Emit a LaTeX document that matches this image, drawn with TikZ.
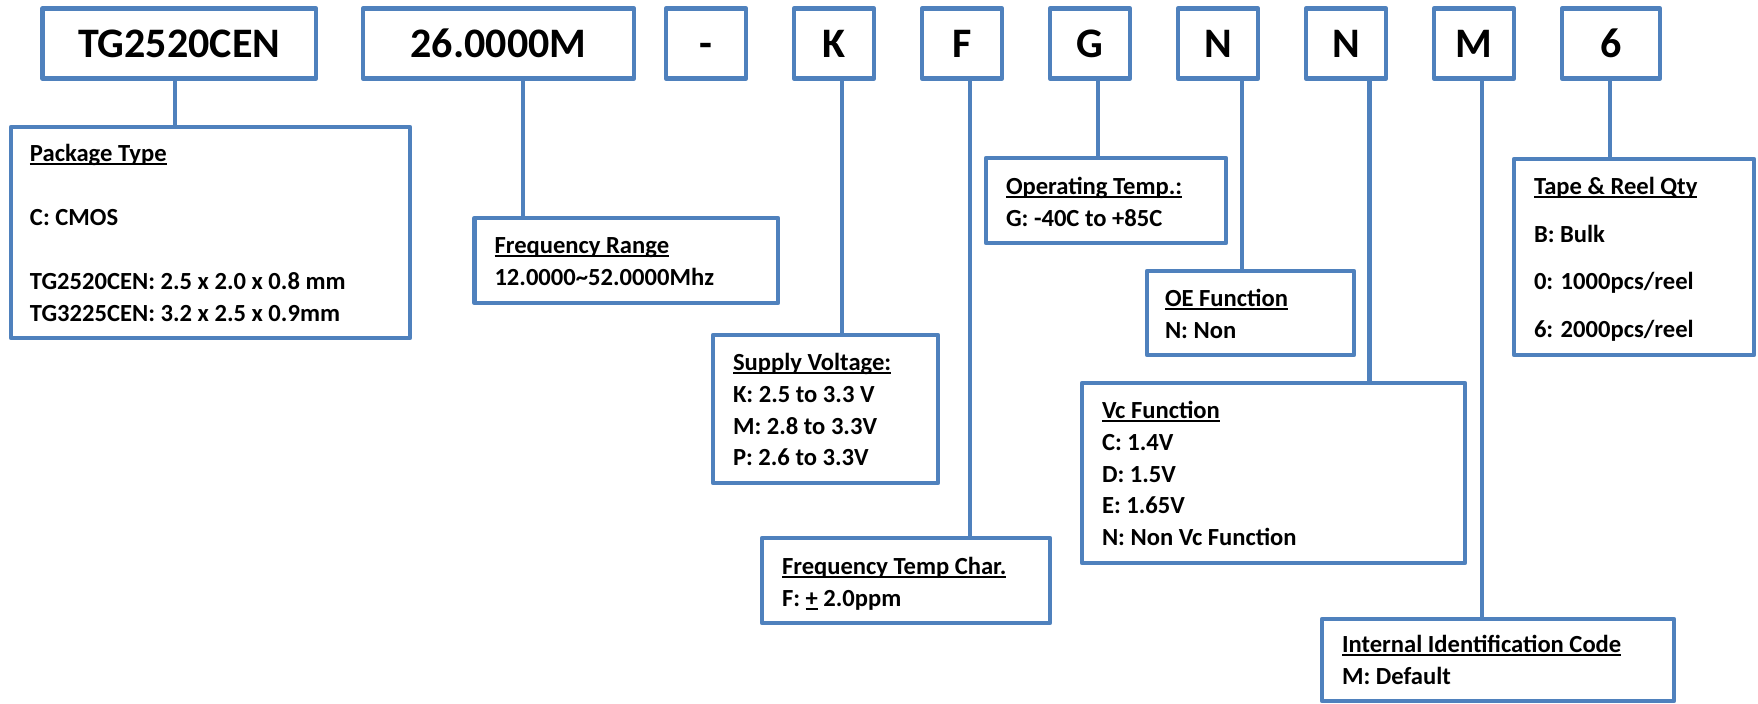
\documentclass[tikz,border=0pt]{standalone}
\usepackage{fontspec}
\setmainfont{Carlito}
\usetikzlibrary{fit}
\definecolor{lineblue}{RGB}{79,129,189}
\newcommand{\ulx}[1]{\leavevmode\setbox0\hbox{#1}\rlap{\rule[-1.5pt]{\wd0}{1pt}}\box0\relax}
\tikzset{
  box/.style={draw=lineblue, line width=2.3pt, inner sep=0pt, outer sep=0pt, line join=round},
  conn/.style={draw=lineblue, line width=2.3pt},
  code/.style={anchor=base, inner sep=0pt, font=\fontsize{21}{25}\selectfont\bfseries},
  desc/.style={anchor=base west, inner sep=0pt, outer sep=0pt, font=\fontsize{12.3}{15.8}\selectfont\bfseries},
}
\begin{document}
\begin{tikzpicture}[x=0.5pt, y=-0.5pt]
\useasboundingbox (0,0) rectangle (1758,704);
% code boxes
\node[box, fit={(42.5,8.5) (316,78.5)}] (c1) {};
\node[box, fit={(363,8.5) (634,78.5)}] (c2) {};
\node[box, fit={(666,8.5) (746,78.5)}] (c3) {};
\node[box, fit={(794,8.5) (874,78.5)}] (c4) {};
\node[box, fit={(922,8.5) (1002,78.5)}] (c5) {};
\node[box, fit={(1050,8.5) (1130,78.5)}] (c6) {};
\node[box, fit={(1178,8.5) (1258,78.5)}] (c7) {};
\node[box, fit={(1306,8.5) (1386,78.5)}] (c8) {};
\node[box, fit={(1434,8.5) (1514,78.5)}] (c9) {};
\node[box, fit={(1562,8.5) (1660,78.5)}] (c10) {};
\node[code] (c1-t) at ([yshift=-6.9pt]c1.center) {TG2520CEN};
\node[code] (c2-t) at ([yshift=-6.9pt]c2.center) {26.0000M};
\node[code] (c3-t) at ([yshift=-6.9pt]c3.center) {-};
\node[code] (c4-t) at ([yshift=-6.9pt]c4.center) {K};
\node[code] (c5-t) at ([yshift=-6.9pt]c5.center) {F};
\node[code] (c6-t) at ([yshift=-6.9pt]c6.center) {G};
\node[code] (c7-t) at ([yshift=-6.9pt]c7.center) {N};
\node[code] (c8-t) at ([yshift=-6.9pt]c8.center) {N};
\node[code] (c9-t) at ([yshift=-6.9pt]c9.center) {M};
\node[code] (c10-t) at ([yshift=-6.9pt]c10.center) {6};
% description boxes
\node[box, fit={(11,127) (410,338)}] (pkg) {};
\node[box, fit={(474.5,218) (778,303)}] (freq) {};
\node[box, fit={(713,335) (938,483)}] (sv) {};
\node[box, fit={(762,538) (1050,623)}] (ftc) {};
\node[box, fit={(986,158) (1226,243)}] (ot) {};
\node[box, fit={(1147,271) (1354,355)}] (oe) {};
\node[box, fit={(1082,383) (1465,563)}] (vc) {};
\node[box, fit={(1322,619) (1674,701)}] (iic) {};
\node[box, fit={(1514,159) (1754,355)}] (tr) {};
% texts
\node[desc] (pkg-t) at ([shift={(19,35)}]pkg.north west)
  {\parbox[t]{200pt}{\fontsize{12.3}{16}\selectfont\ulx{Package Type}\\[16pt]
   C: CMOS\\[16pt]
   TG2520CEN: 2.5 x 2.0 x 0.8 mm\\
   TG3225CEN: 3.2 x 2.5 x 0.9mm}};
\node[desc] (freq-t) at ([shift={(20,36)}]freq.north west)
  {\parbox[t]{200pt}{\ulx{Frequency Range}\\
   12.0000\textasciitilde 52.0000Mhz}};
\node[desc] (sv-t) at ([shift={(20,36)}]sv.north west)
  {\parbox[t]{200pt}{\ulx{Supply Voltage:}\\
   K: 2.5 to 3.3 V\\
   M: 2.8 to 3.3V\\
   P: 2.6 to 3.3V}};
\node[desc] (ftc-t) at ([shift={(20,37)}]ftc.north west)
  {\parbox[t]{200pt}{\ulx{Frequency Temp Char.}\\
   F: \ulx{+} 2.0ppm}};
\node[desc] (ot-t) at ([shift={(20,37)}]ot.north west)
  {\parbox[t]{200pt}{\ulx{Operating Temp.:}\\
   G: -40C to +85C}};
\node[desc] (oe-t) at ([shift={(18,36)}]oe.north west)
  {\parbox[t]{200pt}{\ulx{OE Function}\\
   N: Non}};
\node[desc] (vc-t) at ([shift={(20,36)}]vc.north west)
  {\parbox[t]{200pt}{\ulx{Vc Function}\\
   C: 1.4V\\
   D: 1.5V\\
   E: 1.65V\\
   N: Non Vc Function}};
\node[desc] (iic-t) at ([shift={(20,34)}]iic.north west)
  {\parbox[t]{200pt}{\ulx{Internal Identification Code}\\
   M: Default}};
\node[desc] (tr-t) at ([shift={(20,36)}]tr.north west)
  {\parbox[t]{200pt}{\fontsize{12.3}{23.75}\selectfont\ulx{Tape \& Reel Qty}\\
   B: Bulk\\
   0: 1000pcs/reel\\
   6: 2000pcs/reel}};
% connectors
\draw[conn] ([xshift=-2.1pt]c1.south) -- ([xshift=-2.1pt]c1.south |- pkg.north);
\draw[conn] ([xshift=12.25pt]c2.south) -- ([xshift=12.25pt]c2.south |- freq.north);
\draw[conn] ([xshift=4pt]c4.south) -- ([xshift=4pt]c4.south |- sv.north);
\draw[conn] ([xshift=4pt]c5.south) -- ([xshift=4pt]c5.south |- ftc.north);
\draw[conn] ([xshift=4pt]c6.south) -- ([xshift=4pt]c6.south |- ot.north);
\draw[conn] ([xshift=12pt]c7.south) -- ([xshift=12pt]c7.south |- oe.north);
\draw[conn] ([xshift=11.75pt]c8.south) -- ([xshift=11.75pt]c8.south |- vc.north);
\draw[conn] ([xshift=4pt]c9.south) -- ([xshift=4pt]c9.south |- iic.north);
\draw[conn] ([xshift=-0.5pt]c10.south) -- ([xshift=-0.5pt]c10.south |- tr.north);
\end{tikzpicture}
\end{document}
